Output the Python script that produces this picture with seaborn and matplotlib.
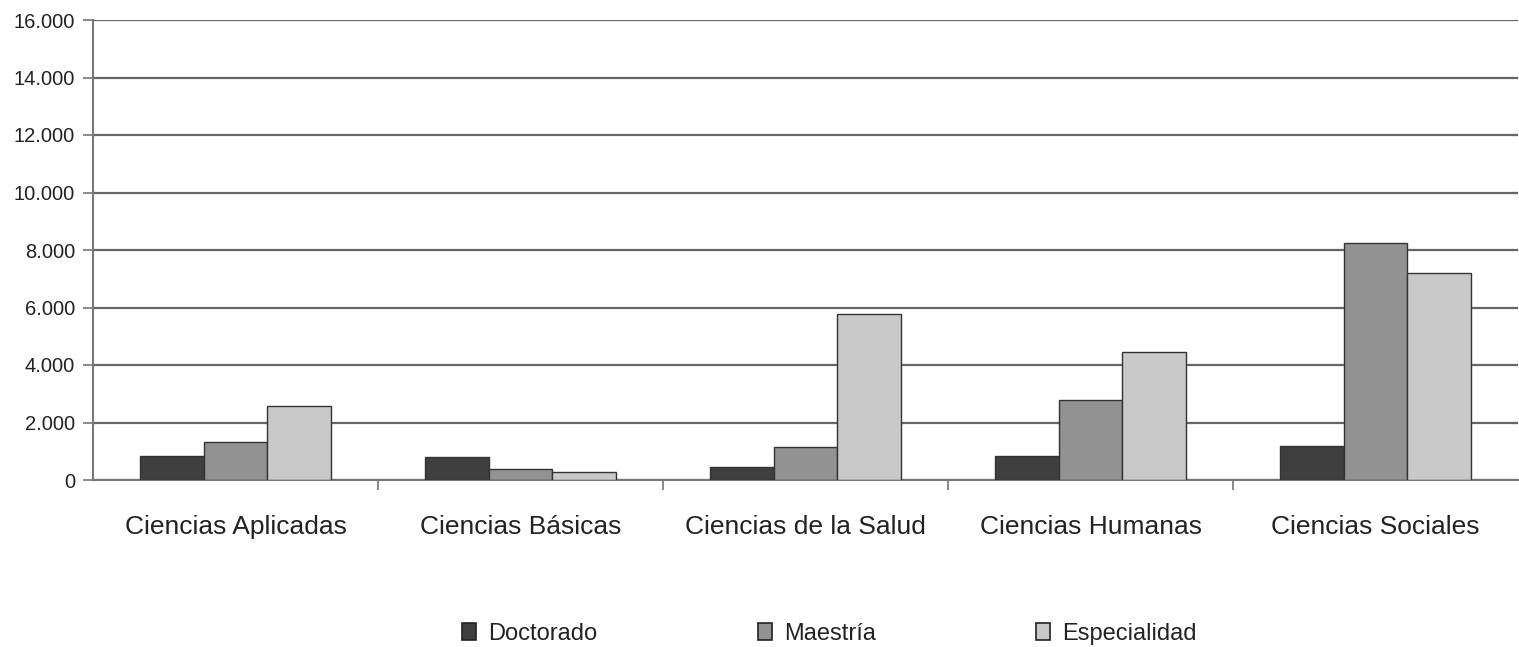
import pandas as pd
import seaborn as sns
import matplotlib.pyplot as plt
from matplotlib.patches import Patch
from matplotlib.ticker import FuncFormatter, FixedLocator

# Data
areas = ["Ciencias Aplicadas", "Ciencias Básicas", "Ciencias de la Salud",
         "Ciencias Humanas", "Ciencias Sociales"]
niveles = ["Doctorado", "Maestría", "Especialidad"]
doctorado = [845, 785, 460, 845, 1190]
maestria = [1330, 370, 1140, 2780, 8260]
especialidad = [2580, 265, 5790, 4460, 7200]
colores = ["#3f3f3f", "#929292", "#c9c9c9"]

df = pd.DataFrame({
    "Area": areas * 3,
    "Nivel": [n for n in niveles for _ in areas],
    "Valor": doctorado + maestria + especialidad,
})

sns.set_style("white")
plt.rcParams["font.family"] = ["Liberation Sans", "DejaVu Sans"]
plt.rcParams["text.color"] = "#222222"

fig = plt.figure(figsize=(15.19, 6.47), dpi=100)
ax = fig.add_axes([93 / 1519, 167 / 647, 1425 / 1519, 460 / 647])

sns.barplot(data=df, x="Area", y="Valor", hue="Nivel", hue_order=niveles,
            palette=colores, width=0.67, edgecolor="#333333", linewidth=1.0,
            legend=False, ax=ax, zorder=3)

ax.set_ylim(0, 16000)
ax.set_xlim(-0.5, 4.5)
ax.set_yticks(range(0, 16001, 2000))
ax.yaxis.set_major_formatter(FuncFormatter(lambda v, p: f"{int(v):,}".replace(",", ".")))
ax.grid(axis="y", color="#666666", linewidth=1.6, zorder=0)
ax.set_axisbelow(True)

for s in ["top", "right"]:
    ax.spines[s].set_visible(False)
for s in ["left", "bottom"]:
    ax.spines[s].set_color("#777777")
    ax.spines[s].set_linewidth(1.5)

ax.tick_params(axis="y", left=True, length=7, width=1.2, color="#777777",
               labelsize=14.5, pad=6, labelcolor="#222222")
ax.tick_params(axis="x", which="major", bottom=False, labelsize=19,
               pad=22, labelcolor="#222222")
ax.xaxis.set_minor_locator(FixedLocator([0.5, 1.5, 2.5, 3.5]))
ax.tick_params(axis="x", which="minor", bottom=True, length=7, width=1.2,
               color="#777777")
ax.set_xlabel("")
ax.set_ylabel("")

handles = [Patch(facecolor=c, edgecolor="#222222", linewidth=1.2) for c in colores]
fig.legend(handles, niveles, loc="center", bbox_to_anchor=(0.546, 0.02),
           ncol=3, frameon=False, fontsize=17, handlelength=0.6,
           handleheight=0.75, handletextpad=0.5, columnspacing=6.8)

fig.savefig("out.png", dpi=100)
